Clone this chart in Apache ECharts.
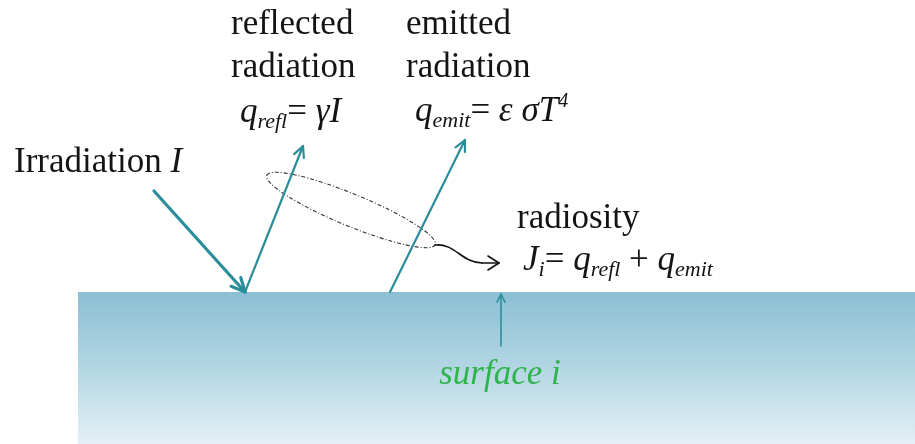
<!DOCTYPE html>
<html><head><meta charset="utf-8">
<script src="https://cdn.jsdelivr.net/npm/echarts@6/dist/echarts.min.js"></script>
<style>html,body{margin:0;padding:0;background:#fff}#c{width:915px;height:444px}</style>
</head><body><div id="c"></div>
<script>
// ---- diagram data (diagram units = one unit per pixel of the 915x444 frame) ----
const arrowNames = ['irradiation', 'reflected', 'emitted', 'surface'];
const arrowX1 = [154, 245, 390, 501];
const arrowY1 = [191, 292, 292, 346];
const arrowX2 = [245, 303, 465, 501];
const arrowY2 = [292, 146, 140, 294];

const loopCenter = [351, 210];
const loopRadii = [91, 16];
const loopAngleDeg = -22.4;

const connectorX = [435, 455, 462, 482, 499];
const connectorY = [245, 243, 263, 263, 263];

const surfaceX = [78, 915];
const surfaceY = [292, 444];

const labelReflected = ['reflected', 'radiation'];
const labelEmitted = ['emitted', 'radiation'];
const labelRadiosity = 'radiosity';
const labelIrradiation = ['Irradiation ', 'I'];
const labelSurface = 'surface i';

// ---- styles ----
const TEAL = '#2a8e9a';
const INK = '#141414';
const F = '"Liberation Serif", "Times New Roman", serif';
const arrowWidth = [3.2, 2.2, 2.2, 1.6];
const arrowHead = [15, 12, 12, 9];

const RICH = {
  n:   {fontFamily: F, fontSize: 35, lineHeight: 40, fill: INK},
  it:  {fontFamily: F, fontSize: 35, fontStyle: 'italic', lineHeight: 40, fill: INK},
  sub: {fontFamily: F, fontSize: 22, fontStyle: 'italic', lineHeight: 16, verticalAlign: 'bottom', fill: INK},
  sup: {fontFamily: F, fontSize: 20, fontStyle: 'italic', lineHeight: 30, verticalAlign: 'top', fill: INK},
  g:   {fontFamily: F, fontSize: 35, fontStyle: 'italic', lineHeight: 40, fill: '#2fb34d'}
};
function txt(x, baseline, str, align) {
  return {type: 'text', x: x, y: baseline - 28, z: 100,
    style: {text: str, rich: RICH, fontFamily: F, fontSize: 35, lineHeight: 40,
      verticalAlign: 'top', align: align || 'left', fill: INK}};
}

const chart = echarts.init(document.getElementById('c'), null, {renderer: 'canvas'});

const arrowData = arrowNames.map((n, i) => ({name: n, value: [arrowX1[i], arrowY1[i], arrowX2[i], arrowY2[i]]}));

chart.setOption({
  animation: false,
  backgroundColor: '#ffffff',
  grid: {left: 0, right: 0, top: 0, bottom: 0},
  xAxis: {type: 'value', min: 0, max: 915, show: false},
  yAxis: {type: 'value', min: 0, max: 444, inverse: true, show: false},
  series: [
    {
      type: 'custom', name: 'surface', clip: false, z: 1,
      data: [[surfaceX[0], surfaceY[0], surfaceX[1], surfaceY[1]]],
      encode: {x: [0, 2], y: [1, 3]},
      renderItem: function (params, api) {
        const a = api.coord([api.value(0), api.value(1)]);
        const b = api.coord([api.value(2), api.value(3)]);
        return {type: 'rect', shape: {x: a[0], y: a[1], width: b[0] - a[0], height: b[1] - a[1]},
          style: {fill: new echarts.graphic.LinearGradient(0, 0, 0, 1, [
            {offset: 0, color: '#8bbfd3'}, {offset: 0.5, color: '#b3d6e3'}, {offset: 1, color: '#e4f0f5'}])}};
      }
    },
    {
      type: 'custom', name: 'arrows', clip: false, z: 5,
      data: arrowData,
      encode: {x: [0, 2], y: [1, 3]},
      renderItem: function (params, api) {
        const i = params.dataIndex;
        const p1 = api.coord([api.value(0), api.value(1)]);
        const p2 = api.coord([api.value(2), api.value(3)]);
        const ang = Math.atan2(p2[1] - p1[1], p2[0] - p1[0]);
        const L = arrowHead[i], s = 0.45;
        const h1 = [p2[0] - L * Math.cos(ang - s), p2[1] - L * Math.sin(ang - s)];
        const h2 = [p2[0] - L * Math.cos(ang + s), p2[1] - L * Math.sin(ang + s)];
        const st = {stroke: TEAL, lineWidth: arrowWidth[i], fill: null, lineCap: 'round', lineJoin: 'round'};
        return {type: 'group', children: [
          {type: 'line', shape: {x1: p1[0], y1: p1[1], x2: p2[0], y2: p2[1]}, style: st},
          {type: 'polyline', shape: {points: [h1, p2, h2]}, style: st}
        ]};
      }
    },
    {
      type: 'custom', name: 'loop', clip: false, z: 4,
      data: [[loopCenter[0], loopCenter[1], loopRadii[0], loopRadii[1]]],
      encode: {x: 0, y: 1},
      renderItem: function (params, api) {
        const c = api.coord([api.value(0), api.value(1)]);
        const r = api.size([api.value(2), api.value(3)]);
        return {type: 'ellipse', x: c[0], y: c[1], rotation: loopAngleDeg * Math.PI / 180,
          shape: {cx: 0, cy: 0, rx: r[0], ry: r[1]},
          style: {stroke: '#333', lineWidth: 1.1, fill: null, lineDash: [4, 2, 1, 2]}};
      }
    },
    {
      type: 'custom', name: 'connector', clip: false, z: 4,
      data: [connectorX.concat(connectorY)],
      encode: {x: [0, 1, 2, 3, 4], y: [5, 6, 7, 8, 9]},
      renderItem: function (params, api) {
        const P = [];
        for (let k = 0; k < 5; k++) P.push(api.coord([api.value(k), api.value(k + 5)]));
        const tip = P[4];
        const st = {stroke: '#111', lineWidth: 1.6, fill: null, lineCap: 'round', lineJoin: 'round'};
        return {type: 'group', children: [
          {type: 'bezierCurve', shape: {x1: P[0][0], y1: P[0][1], cpx1: P[1][0], cpy1: P[1][1],
            cpx2: P[2][0], cpy2: P[2][1], x2: P[3][0], y2: P[3][1]}, style: st},
          {type: 'line', shape: {x1: P[3][0], y1: P[3][1], x2: tip[0], y2: tip[1]}, style: st},
          {type: 'polyline', shape: {points: [[tip[0] - 11, tip[1] - 7], tip, [tip[0] - 11, tip[1] + 7]]}, style: st}
        ]};
      }
    }
  ],
  graphic: [
    txt(231, 33, '{n|' + labelReflected[0] + '}'),
    txt(231, 76, '{n|' + labelReflected[1] + '}'),
    txt(240, 121, '{it|q}{sub|refl}{n|= }{it|γI}'),
    txt(406, 33, '{n|' + labelEmitted[0] + '}'),
    txt(406, 76, '{n|' + labelEmitted[1] + '}'),
    txt(415, 120, '{it|q}{sub|emit}{n|= }{it|ε σT}{sup|4}'),
    txt(14, 171, '{n|' + labelIrradiation[0] + '}{it|' + labelIrradiation[1] + '}'),
    txt(517, 227, '{n|' + labelRadiosity + '}'),
    txt(523, 269, '{it|J}{sub|i}{n|= }{it|q}{sub|refl}{n| + }{it|q}{sub|emit}'),
    txt(500, 383, '{g|' + labelSurface + '}', 'center')
  ]
});
</script></body></html>
